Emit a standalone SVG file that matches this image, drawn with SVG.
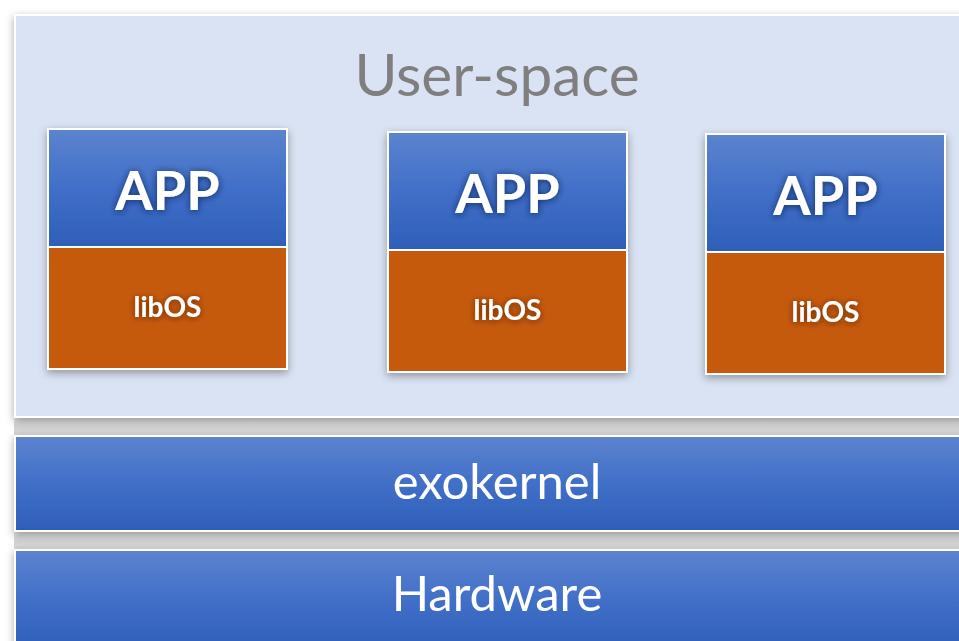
<svg xmlns="http://www.w3.org/2000/svg" width="959" height="641" viewBox="0 0 959 641">
  <defs>
    <linearGradient id="blue" x1="0" y1="0" x2="0" y2="1">
      <stop offset="0" stop-color="#5C84CE"/>
      <stop offset="0.5" stop-color="#416FC8"/>
      <stop offset="1" stop-color="#2E5FB8"/>
    </linearGradient>
    <linearGradient id="gap" x1="0" y1="0" x2="0" y2="1">
      <stop offset="0" stop-color="#E6E6E6"/>
      <stop offset="0.5" stop-color="#D2D2D2"/>
      <stop offset="1" stop-color="#D8D8D8"/>
    </linearGradient>
    <filter id="shadow" x="-10%" y="-10%" width="120%" height="130%">
      <feDropShadow dx="0" dy="3" stdDeviation="4" flood-color="#000" flood-opacity="0.35"/>
    </filter>
    <filter id="glow" x="-20%" y="-30%" width="140%" height="160%">
      <feDropShadow dx="0" dy="1" stdDeviation="3.5" flood-color="#0A1E50" flood-opacity="0.85"/>
    </filter>
    <filter id="glowO" x="-20%" y="-30%" width="140%" height="160%">
      <feDropShadow dx="0" dy="1" stdDeviation="3" flood-color="#4A1A00" flood-opacity="0.75"/>
    </filter>
  </defs>
  <style>
    .band { fill: url(#blue); stroke: #FFFFFF; stroke-width: 2; }
    .user { fill: #DAE3F3; stroke: #FFFFFF; stroke-width: 2; }
    .app { fill: url(#blue); stroke: #FFFFFF; stroke-width: 2; }
    .lib { fill: #C55A11; stroke: #FFFFFF; stroke-width: 2; }
    .t { font-family: Lato, "Liberation Sans", sans-serif; text-anchor: middle; }
    .big { font-size: 54px; font-weight: bold; fill: #FFFFFF; }
    .small { font-size: 28px; font-weight: bold; fill: #FFFFFF; }
    .band-t { font-size: 49px; fill: #FFFFFF; }
    .title { font-size: 58.5px; fill: #7F7F7F; }
  </style>
  <rect x="0" y="0" width="959" height="641" fill="#FFFFFF"/>
  <rect x="14" y="418" width="945" height="18" fill="url(#gap)"/>
  <rect x="14" y="532" width="945" height="18" fill="url(#gap)"/>

  <g id="user-space">
    <rect class="user" x="15" y="15" width="960" height="402" filter="url(#shadow)"/>
    <text class="t title" x="497" y="96">User-space</text>
  </g>

  <g id="app1">
    <g filter="url(#shadow)">
      <rect class="app" x="48" y="129" width="239" height="118"/>
      <rect class="lib" x="48" y="247" width="239" height="122"/>
    </g>
    <text class="t big" x="167.5" y="210" filter="url(#glow)">APP</text>
    <text class="t small" x="167.5" y="317" filter="url(#glowO)">libOS</text>
  </g>

  <g id="app2">
    <g filter="url(#shadow)">
      <rect class="app" x="388" y="132" width="239" height="118"/>
      <rect class="lib" x="388" y="250" width="239" height="122"/>
    </g>
    <text class="t big" x="507.5" y="213" filter="url(#glow)">APP</text>
    <text class="t small" x="507.5" y="320" filter="url(#glowO)">libOS</text>
  </g>

  <g id="app3">
    <g filter="url(#shadow)">
      <rect class="app" x="706" y="134" width="239" height="118"/>
      <rect class="lib" x="706" y="252" width="239" height="122"/>
    </g>
    <text class="t big" x="825.5" y="215" filter="url(#glow)">APP</text>
    <text class="t small" x="825.5" y="322" filter="url(#glowO)">libOS</text>
  </g>

  <g id="exokernel">
    <rect class="band" x="15" y="436" width="960" height="95" filter="url(#shadow)"/>
    <text class="t band-t" x="497" y="499">exokernel</text>
  </g>

  <g id="hardware">
    <rect class="band" x="15" y="550" width="960" height="100" filter="url(#shadow)"/>
    <text class="t band-t" x="497" y="611">Hardware</text>
  </g>

  <g id="connectors"></g>
</svg>
